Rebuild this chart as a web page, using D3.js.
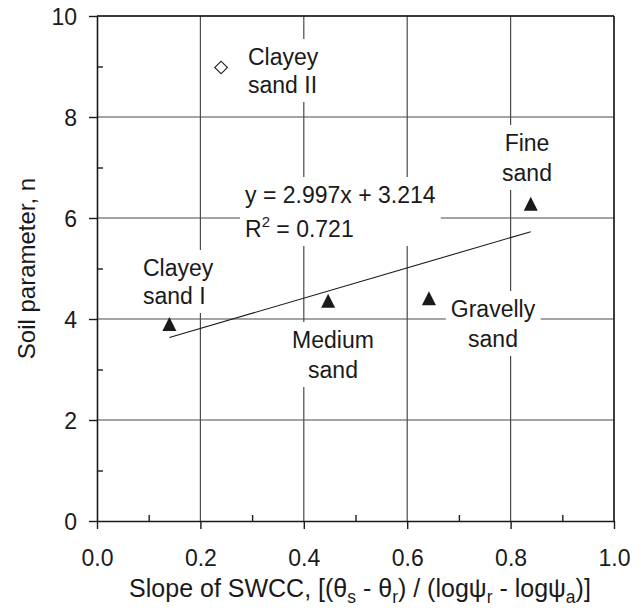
<!DOCTYPE html>
<html><head><meta charset="utf-8">
<script src="https://cdn.jsdelivr.net/npm/d3@7"></script>
<style>body{margin:0;background:#fff}svg{display:block}text{font-family:"Liberation Sans",Arial,Helvetica,sans-serif;fill:#1a1a1a}</style>
</head><body><svg id="c" width="644" height="613"></svg>
<script>
const soils = ["Clayey sand I", "Medium sand", "Gravelly sand", "Fine sand"];
const slopeX = [0.14, 0.447, 0.642, 0.839];
const paramN = [3.87, 4.33, 4.38, 6.25];
const outlierName = ["Clayey sand II"];
const outlierX = [0.24];
const outlierN = [8.98];
const fitSlope = 2.997, fitIntercept = 3.214, fitR2 = 0.721;
const xTicks = [0, 0.2, 0.4, 0.6, 0.8, 1.0];
const yTicks = [0, 2, 4, 6, 8, 10];
const xMinor = [0.1, 0.3, 0.5, 0.7, 0.9];
const yMinor = [1, 3, 5, 7, 9];

const svg = d3.select("#c");
const m = {l:97, r:614, t:16, b:521};
const x = d3.scaleLinear().domain([0,1]).range([m.l, m.r]);
const y = d3.scaleLinear().domain([0,10]).range([m.b, m.t]);
const ink = "#1a1a1a", grid = "#4a4a4a";
const FS = 23;

// gridlines
const g = svg.append("g");
g.selectAll(".gx").data(xTicks.slice(1)).join("line")
  .attr("x1", d=>x(d)).attr("x2", d=>x(d)).attr("y1", m.t).attr("y2", m.b)
  .attr("stroke", grid).attr("stroke-width", 1.2);
g.selectAll(".gy").data(yTicks.slice(1)).join("line")
  .attr("y1", d=>y(d)).attr("y2", d=>y(d)).attr("x1", m.l).attr("x2", m.r)
  .attr("stroke", grid).attr("stroke-width", 1.2);

// labels with white backgrounds (drawn over the grid)
const labels = svg.append("g");
function label(lines, px, py, anchor, lh) {
  const t = labels.append("text").attr("font-size", FS).attr("text-anchor", anchor);
  lines.forEach((ln, i) => {
    const ts = t.append("tspan").attr("x", px).attr("y", py + i*lh);
    if (Array.isArray(ln)) ln.forEach(p => {
      const s = ts.append("tspan").text(p.t);
      if (p.sup) s.attr("font-size", FS*0.65).attr("dy", -FS*0.42);
      if (p.after) s.attr("dy", FS*0.42);
    }); else ts.text(ln);
  });
  const bb = t.node().getBBox();
  labels.insert("rect", () => t.node()).attr("x", bb.x-5).attr("y", bb.y-5)
    .attr("width", bb.width+10).attr("height", bb.height+9).attr("fill", "#fff");
}
label(["Clayey", "sand II"], 248, 65, "start", 28);
label(["Clayey", "sand I"], 143, 276, "start", 28);
label(["Medium", "sand"], 333, 348, "middle", 30);
label(["Gravelly", "sand"], 493, 317, "middle", 30);
label(["Fine", "sand"], 527, 151, "middle", 30);
label([`y = ${fitSlope}x + ${fitIntercept}`, [{t:"R"},{t:"2", sup:true},{t:` = ${fitR2}`, after:true}]], 245, 203, "start", 34);

// axes
const xAxis = svg.append("g").attr("transform", `translate(0,${m.b})`)
  .call(d3.axisBottom(x).tickValues(xTicks).tickFormat(d3.format(".1f")).tickSize(8).tickSizeOuter(0));
const yAxis = svg.append("g").attr("transform", `translate(${m.l},0)`)
  .call(d3.axisLeft(y).tickValues(yTicks).tickFormat(d3.format("d")).tickSize(8).tickSizeOuter(0));
const xMin = svg.append("g").attr("transform", `translate(0,${m.b})`)
  .call(d3.axisTop(x).tickValues(xMinor).tickFormat("").tickSize(6).tickSizeOuter(0));
const yMin = svg.append("g").attr("transform", `translate(${m.l},0)`)
  .call(d3.axisRight(y).tickValues(yMinor).tickFormat("").tickSize(6).tickSizeOuter(0));
xMin.select(".domain").remove(); yMin.select(".domain").remove();
[xAxis, yAxis, xMin, yMin].forEach(a => {
  a.selectAll("path.domain").attr("stroke", ink).attr("stroke-width", 1.6);
  a.selectAll(".tick line").attr("stroke", ink).attr("stroke-width", 1.4);
});
xAxis.selectAll("text").attr("font-size", FS).attr("fill", ink).attr("dy", null).attr("y", 45);
yAxis.selectAll("text").attr("font-size", FS).attr("fill", ink).attr("x", -20).attr("dy", "0.36em");
// top and right frame
svg.append("line").attr("x1", m.l).attr("x2", m.r).attr("y1", m.t).attr("y2", m.t).attr("stroke", ink).attr("stroke-width", 1.4);
svg.append("line").attr("x1", m.r).attr("x2", m.r).attr("y1", m.t).attr("y2", m.b).attr("stroke", ink).attr("stroke-width", 1.4);

// regression line
const x0 = d3.min(slopeX), x1 = d3.max(slopeX);
svg.append("line").attr("x1", x(x0)).attr("x2", x(x1))
  .attr("y1", y(fitSlope*x0+fitIntercept)).attr("y2", y(fitSlope*x1+fitIntercept))
  .attr("stroke", ink).attr("stroke-width", 1.1);

// markers
const triType = {draw(ctx, size) { const h = Math.sqrt(size); ctx.moveTo(0, -h*0.62); ctx.lineTo(h*0.5, h*0.38); ctx.lineTo(-h*0.5, h*0.38); ctx.closePath(); }};
const tri = d3.symbol().type(triType).size(196);
svg.selectAll(".pt").data(slopeX).join("path")
  .attr("d", tri).attr("transform", (d,i)=>`translate(${x(d)},${y(paramN[i])})`).attr("fill", ink);
const dia = d3.symbol().type(d3.symbolSquare).size(80);
svg.selectAll(".od").data(outlierX).join("path")
  .attr("d", dia).attr("transform", (d,i)=>`translate(${x(d)},${y(outlierN[i])}) rotate(45)`)
  .attr("fill", "#fff").attr("stroke", ink).attr("stroke-width", 1.1);

// axis titles
const xt = svg.append("text").attr("x", 360).attr("y", 597).attr("text-anchor", "middle").attr("font-size", 25);
const parts = [["Slope of SWCC, [(θ"],["s",1],[" - θ"],["r",1],[") / (logψ"],["r",1],[" - logψ"],["a",1],[")]"]];
let down = false;
parts.forEach(([t, sub]) => {
  const s = xt.append("tspan").text(t);
  if (sub) { s.attr("font-size", 17.5).attr("dy", down ? 0 : 6); down = true; }
  else if (down) { s.attr("dy", -6); down = false; }
});
svg.append("text").attr("transform", "translate(35,268.5) rotate(-90)").attr("text-anchor", "middle")
  .attr("font-size", 24).text("Soil parameter, n");
</script></body></html>
